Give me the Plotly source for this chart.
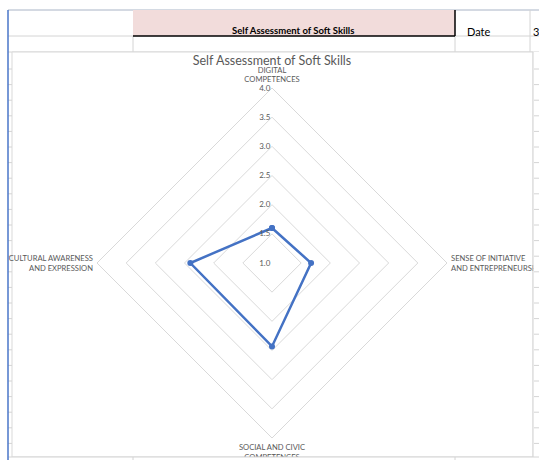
import plotly.graph_objects as go

# ---- data ----
categories = [
    "DIGITAL<br>COMPETENCES",
    "SENSE OF INITIATIVE<br>AND ENTREPRENEURSHIP",
    "SOCIAL AND CIVIC<br>COMPETENCES",
    "CULTURAL AWARENESS<br>AND EXPRESSION",
]
scores = [1.6, 1.67, 2.43, 2.4]
radial_ticks = [1.0, 1.5, 2.0, 2.5, 3.0, 3.5, 4.0]
radial_labels = ["1.0", "1.5", "2.0", "2.5", "3.0", "3.5", "4.0"]
chart_title = "Self Assessment of Soft Skills"
header_title = "Self Assessment of Soft Skills"
date_label = "Date"
date_value = "3"

W, H = 539, 460
FONT = "Lato"
GRAY_TXT = "#595959"
GRID = "#d9d9d9"
SHEET = "#d4d4d4"


def px(x):
    return x / W


def py(y):
    return 1 - y / H


fig = go.Figure()
fig.add_trace(
    go.Scatterpolar(
        r=scores + scores[:1],
        theta=categories + categories[:1],
        mode="lines+markers",
        line=dict(color="#4472c4", width=2.5),
        marker=dict(size=6, color="#4472c4"),
        hoverinfo="skip",
        showlegend=False,
    )
)

cx, cy, R = 272, 263, 175

shapes = []


def line(x0, y0, x1, y1, color=SHEET, width=1, layer="below"):
    shapes.append(dict(type="line", xref="paper", yref="paper",
                       x0=px(x0), y0=py(y0), x1=px(x1), y1=py(y1),
                       line=dict(color=color, width=width), layer=layer))


def rect(x0, y0, x1, y1, fill, lc=None, lw=0, layer="below"):
    shapes.append(dict(type="rect", xref="paper", yref="paper",
                       x0=px(x0), y0=py(y0), x1=px(x1), y1=py(y1),
                       fillcolor=fill,
                       line=dict(color=lc or fill, width=lw), layer=layer))


# spreadsheet background
line(8, 10, 539, 10, color="#a9b4c6", width=1)
rect(133, 10, 455, 36, "#f2dcdb")
line(8, 36, 133, 36)
line(455, 36, 539, 36)
line(133, 36, 133, 52)
line(455, 36, 455, 52)
line(530, 10, 530, 52)
line(8, 52, 539, 52)
line(133, 36, 455, 36, color="#000000", width=1.5)
line(455, 10, 455, 36, color="#000000", width=1.5)
# chart area
rect(12, 52, 533, 457, "#ffffff", lc=GRID, lw=1)
# left row ticks
y = 69.0
while y < 460:
    line(8, y, 12, y)
    y += 15.6
# right strip (covers clipped labels)
rect(533.5, 52, 540, 461, "#ffffff", layer="above")
y = 69.0
while y < 460:
    line(534, y, 539, y, layer="above")
    y += 15.6
line(533, 52, 533, 457, color=GRID, layer="above")
# bottom strip
rect(8.5, 457, 540, 461, "#ffffff", layer="above")
line(8, 457, 539, 457, color=SHEET, layer="above")
line(133, 457, 133, 460, layer="above")
line(455, 457, 455, 460, layer="above")
# blue selection line
line(8, 10, 8, 460, color="#4a76c9", width=1.5, layer="above")

annotations = [
    dict(text=f"<b>{header_title}</b>", x=px(293), y=py(23), xref="paper", yref="paper",
         showarrow=False, font=dict(family=FONT, size=9.5, color="#000000")),
    dict(text=date_label, x=px(493), y=py(23), xref="paper", yref="paper",
         showarrow=False, font=dict(family=FONT, size=11, color="#000000")),
    dict(text=date_value, x=px(531), y=py(23), xref="paper", yref="paper", xanchor="left",
         showarrow=False, font=dict(family=FONT, size=11, color="#000000")),
]

fig.update_layout(
    width=W, height=H,
    margin=dict(l=0, r=0, t=0, b=0),
    paper_bgcolor="#ffffff",
    plot_bgcolor="#ffffff",
    title=dict(text=chart_title, x=px(272), y=py(61), xanchor="center", yanchor="middle",
               font=dict(family=FONT, size=12.5, color=GRAY_TXT)),
    polar=dict(
        domain=dict(x=[px(cx - R), px(cx + R)], y=[py(cy + R), py(cy - R)]),
        bgcolor="rgba(0,0,0,0)",
        gridshape="linear",
        angularaxis=dict(rotation=90, direction="clockwise", showgrid=False,
                         showline=True, linecolor=GRID, linewidth=1,
                         ticks="outside", ticklen=2, tickcolor="rgba(0,0,0,0)",
                         tickfont=dict(family=FONT, size=7.6, color=GRAY_TXT)),
        radialaxis=dict(range=[1, 4], tickvals=radial_ticks, ticktext=radial_labels,
                        angle=90, tickangle=90, showline=False, gridcolor=GRID,
                        gridwidth=1, ticks="", side="counterclockwise",
                        tickfont=dict(family=FONT, size=8, color=GRAY_TXT)),
    ),
    shapes=shapes,
    annotations=annotations,
)

fig.write_html("out.html", config={"displayModeBar": False},
               post_script="document.body.style.margin='0';")
